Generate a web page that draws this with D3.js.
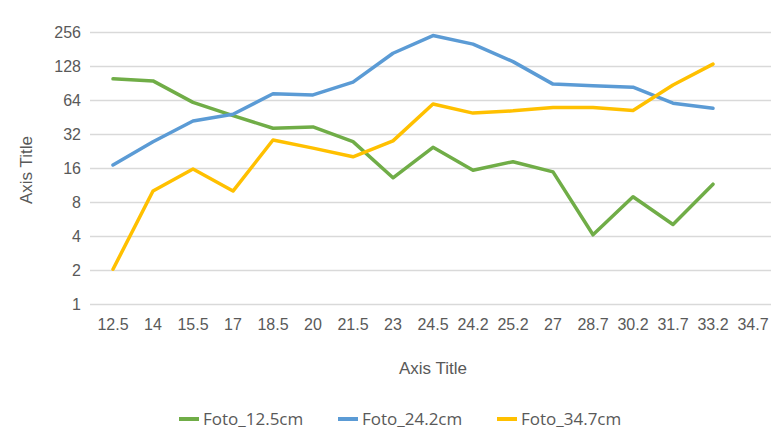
<!DOCTYPE html>
<html>
<head>
<meta charset="utf-8">
<script src="https://cdn.jsdelivr.net/npm/d3@7"></script>
<style>
  body { margin: 0; background: #fff; }
  text { font-family: "Liberation Sans", "Open Sans", sans-serif; fill: #595959; }
</style>
</head>
<body>
<div id="chart"></div>
<script>
// chart values
const categories = ["12.5", "14", "15.5", "17", "18.5", "20", "21.5", "23", "24.5", "24.2", "25.2", "27", "28.7", "30.2", "31.7", "33.2", "34.7"];
const foto_12_5 = [98.5, 94.5, 61, 46.5, 36, 37, 27.4, 13.1, 24.4, 15.3, 18.2, 14.8, 4.1, 8.9, 5.06, 11.5];
const foto_24_2 = [17, 27.3, 41.7, 47.8, 72.6, 71, 92, 166, 238, 200, 140, 88.5, 85.4, 83, 60, 54];
const foto_34_7 = [2.03, 10, 15.7, 10, 28.3, 24, 20.1, 27.8, 59, 49, 51.3, 55, 55, 51.6, 87, 133];
const yTicks = [1, 2, 4, 8, 16, 32, 64, 128, 256];
const seriesNames = ["Foto_12.5cm", "Foto_24.2cm", "Foto_34.7cm"];

const FRAME_WIDTH = 771;
const FRAME_HEIGHT = 447;
const PLOT = {left: 93, right: 773, top: 32, bottom: 304};

const FRAME = d3.select("#chart")
  .append("svg")
    .attr("width", FRAME_WIDTH)
    .attr("height", FRAME_HEIGHT);

const X_SCALE = d3.scaleBand()
  .domain(categories)
  .range([PLOT.left, PLOT.right])
  .padding(0);

const Y_SCALE = d3.scaleLog()
  .base(2)
  .domain([1, 256])
  .range([PLOT.bottom, PLOT.top]);

// gridlines + y labels
const yAxis = FRAME.append("g")
  .attr("transform", "translate(" + (PLOT.left - 3) + ",0)")
  .call(d3.axisLeft(Y_SCALE).tickValues(yTicks).tickFormat(d3.format("d"))
    .tickSize(-(FRAME_WIDTH - PLOT.left + 10)).tickPadding(9));
yAxis.select(".domain").remove();
yAxis.selectAll("line").attr("stroke", "#d9d9d9").attr("stroke-width", 1.5);
yAxis.selectAll("text").attr("font-size", "16px").style("fill", "#595959");

// x labels
const xAxis = FRAME.append("g")
  .attr("transform", "translate(0," + PLOT.bottom + ")")
  .call(d3.axisBottom(X_SCALE).tickSize(0).tickPadding(15));
xAxis.select(".domain").remove();
xAxis.selectAll("text").attr("font-size", "16px").style("fill", "#595959");

// axis titles
FRAME.append("text")
  .attr("x", 433).attr("y", 374)
  .attr("text-anchor", "middle")
  .attr("font-size", "17px")
  .text("Axis Title");

FRAME.append("text")
  .attr("transform", "translate(32,170) rotate(-90)")
  .attr("text-anchor", "middle")
  .attr("font-size", "17px")
  .text("Axis Title");

// lines
const colors = ["#70ad47", "#5b9bd5", "#ffc000"];
const allSeries = [foto_12_5, foto_24_2, foto_34_7];

const line = d3.line()
  .x((d, i) => X_SCALE(categories[i]) + X_SCALE.bandwidth() / 2)
  .y(d => Y_SCALE(d));

allSeries.forEach((s, k) => {
  FRAME.append("path")
    .datum(s)
    .attr("fill", "none")
    .attr("stroke", colors[k])
    .attr("stroke-width", 3.5)
    .attr("stroke-linejoin", "round")
    .attr("stroke-linecap", "round")
    .attr("d", line);
});

// legend
const legendX = [179, 338, 497];
const legend = FRAME.append("g");
seriesNames.forEach((name, k) => {
  legend.append("line")
    .attr("x1", legendX[k]).attr("x2", legendX[k] + 20)
    .attr("y1", 419).attr("y2", 419)
    .attr("stroke", colors[k])
    .attr("stroke-width", 4);
  legend.append("text")
    .attr("x", legendX[k] + 24).attr("y", 425)
    .attr("font-size", "17px")
    .style("font-family", "'Open Sans', sans-serif")
    .text(name);
});
</script>
</body>
</html>
